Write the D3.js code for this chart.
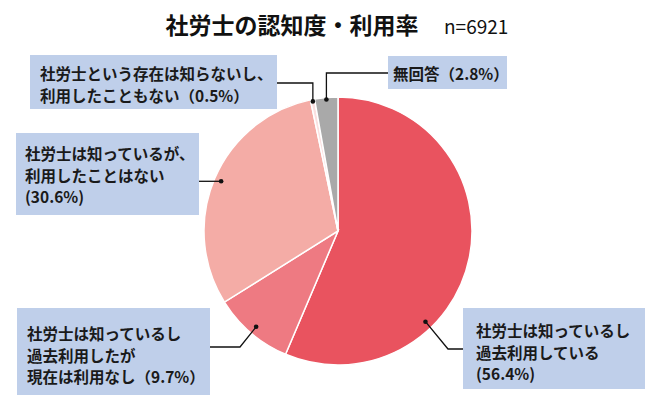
<!DOCTYPE html>
<html>
<head>
<meta charset="utf-8">
<script src="https://cdn.jsdelivr.net/npm/d3@7"></script>
<style>
  body { margin: 0; background: #fff; }
  text { font-family: "Noto Sans CJK JP", "Noto Sans", sans-serif; }
</style>
</head>
<body>
<div id="chart"></div>
<script>
// data
const categories = ["known_used", "known_past", "known_never", "unknown", "noanswer"]
const values = [56.4, 9.7, 30.6, 0.5, 2.8]
const labelLines = [
  ["社労士は知っているし", "過去利用している", "(56.4%)"],
  ["社労士は知っているし", "過去利用したが", "現在は利用なし（9.7%）"],
  ["社労士は知っているが、", "利用したことはない", "(30.6%)"],
  ["社労士という存在は知らないし、", "利用したこともない（0.5%）"],
  ["無回答（2.8%）"],
]
const colors = ["#e9535f", "#ee7a82", "#f4aca6", "#fbe0e0", "#a9a9a9"]

const width = 660
const height = 403
const cx = 338
const cy = 231
const radius = 134

// label boxes + leader elbows (layout only)
const boxes = [
  { x: 463, y: 308, w: 182, h: 81, tx: 476, ty: 330, dotFrac: 0.67, dotR: 126, path: [[448, 349], [463, 349]] },
  { x: 17, y: 308, w: 193, h: 87, tx: 27, ty: 333, dotFrac: 0.5, dotR: 126, path: [[240, 347], [210, 347]] },
  { x: 16, y: 133, w: 183, h: 82, tx: 25, ty: 153, dotFrac: 0.5, dotR: 127, path: [[199, null]] },
  { x: 30, y: 55, w: 247, h: 54, tx: 40, ty: 73, dotFrac: 0.5, dotR: 132, path: [[null, 83], [277, 83]] },
  { x: 388, y: 56, w: 119, h: 33, tx: 393, ty: 73, dotFrac: 0.5, dotR: 132, path: [[null, 73], [388, 73]] },
]

const svg = d3.select("#chart").append("svg").attr("width", width).attr("height", height)

// title
svg.append("text")
  .attr("x", 292).attr("y", 24)
  .attr("text-anchor", "middle").attr("dominant-baseline", "central")
  .attr("font-size", 23).attr("font-weight", "bold").attr("fill", "#111")
  .text("社労士の認知度・利用率")
svg.append("text")
  .attr("x", 444).attr("y", 25)
  .attr("dominant-baseline", "central")
  .attr("font-size", 19).attr("fill", "#111")
  .text("n=6921")

const data = categories.map((c, i) => ({ key: c, value: values[i] }))
const pie = d3.pie().sort(null).value((d) => d.value)
const arcs = pie(data)
const arc = d3.arc().innerRadius(0).outerRadius(radius)

const g = svg.append("g").attr("transform", `translate(${cx}, ${cy})`)
g.selectAll("path")
  .data(arcs)
  .enter()
  .append("path")
  .attr("d", arc)
  .attr("fill", (d, i) => colors[i])
  .attr("stroke", "#fff")
  .attr("stroke-width", 1.5)

// label boxes
const labels = svg.append("g")
arcs.forEach((a, i) => {
  const b = boxes[i]
  const ang = a.startAngle + (a.endAngle - a.startAngle) * b.dotFrac
  const dx = cx + Math.sin(ang) * b.dotR
  const dy = cy - Math.cos(ang) * b.dotR

  const pts = [[dx, dy]]
  b.path.forEach(([px, py]) => pts.push([px == null ? dx : px, py == null ? dy : py]))

  labels.append("path")
    .attr("d", d3.line()(pts))
    .attr("fill", "none").attr("stroke", "#111").attr("stroke-width", 1.3)
  labels.append("circle").attr("cx", dx).attr("cy", dy).attr("r", 2.3).attr("fill", "#111")

  labels.append("rect")
    .attr("x", b.x).attr("y", b.y).attr("width", b.w).attr("height", b.h)
    .attr("fill", "#bfcfea")

  labels.append("g")
    .selectAll("text")
    .data(labelLines[i])
    .enter()
    .append("text")
    .attr("x", b.tx)
    .attr("y", (d, j) => b.ty + j * 21.5)
    .attr("dominant-baseline", "central")
    .attr("font-size", 15.5)
    .attr("font-weight", "bold")
    .attr("fill", "#1a1a1a")
    .text((d) => d)
})
</script>
</body>
</html>
